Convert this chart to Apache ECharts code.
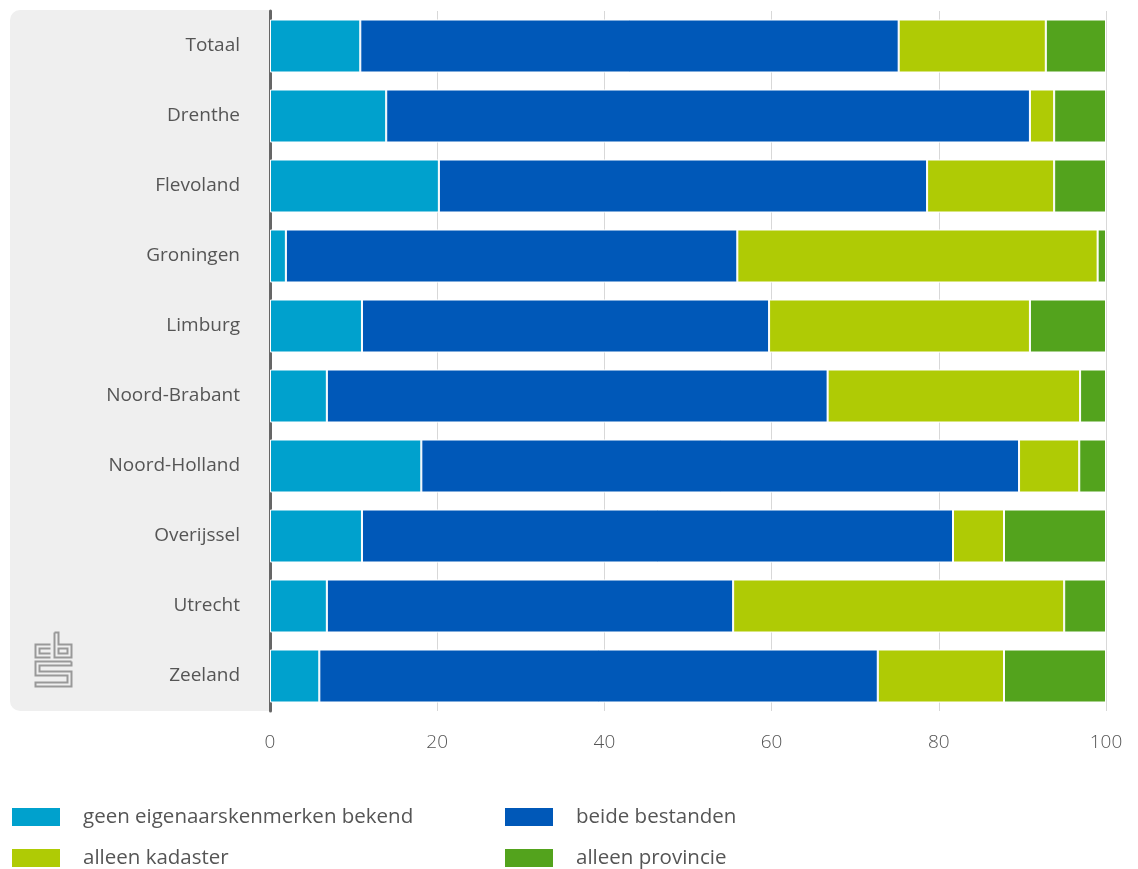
<!DOCTYPE html>
<html><head><meta charset="utf-8">
<script src="https://cdn.jsdelivr.net/npm/echarts@6/dist/echarts.min.js"></script>
<style>html,body{margin:0;padding:0;background:#fff}#c{width:1138px;height:869px}</style>
</head><body><div id="c"></div>
<script>
const categories = ['Totaal','Drenthe','Flevoland','Groningen','Limburg','Noord-Brabant','Noord-Holland','Overijssel','Utrecht','Zeeland'];
const geenKenmerken = [10.8, 13.9, 20.2, 1.9, 11.0, 6.8, 18.1, 11.0, 6.8, 5.9];
const beideBestanden = [64.4, 77.0, 58.4, 54.0, 48.7, 59.9, 71.5, 70.7, 48.6, 66.8];
const alleenKadaster = [17.6, 2.9, 15.2, 43.1, 31.2, 30.2, 7.2, 6.1, 39.6, 15.1];
const alleenProvincie = [7.2, 6.2, 6.2, 1.0, 9.1, 3.1, 3.2, 12.2, 5.0, 12.2];
const xTicks = [0, 20, 40, 60, 80, 100];

const font = "'Open Sans', 'Noto Sans', sans-serif";
const chart = echarts.init(document.getElementById('c'), null, {renderer:'canvas'});
const mk = (name, data, color) => ({
  name, type:'bar', stack:'t', data, barWidth: 53,
  itemStyle:{color, borderColor:'#fff', borderWidth:1},
  emphasis:{disabled:true}
});
const legendBase = {orient:'vertical', top:806, padding:0, height:70,
  itemWidth:50, itemHeight:20, itemGap:19, icon:'rect',
  textStyle:{color:'#555', fontSize:20.5, padding:[0,0,0,17], fontFamily:font}};
chart.setOption({
  animation:false,
  textStyle:{fontFamily:font},
  grid:{left:270, right:32, top:11, bottom:158, containLabel:false},
  xAxis:{type:'value', min:xTicks[0], max:xTicks[xTicks.length-1], interval:20,
    axisLine:{show:false}, axisTick:{show:false},
    splitLine:{show:true, lineStyle:{color:'#d8d8d8', width:1}},
    axisLabel:{color:'#555', fontSize:19, margin:22, fontFamily:font, fontWeight:300}},
  yAxis:{type:'category', data:categories, inverse:true,
    axisLine:{show:true, lineStyle:{color:'#666', width:3}},
    axisTick:{show:false},
    axisLabel:{color:'#555', fontSize:19, margin:30, fontFamily:font}},
  legend:[
    Object.assign({data:['geen eigenaarskenmerken bekend','alleen kadaster'], left:10}, legendBase),
    Object.assign({data:['beide bestanden','alleen provincie'], left:503}, legendBase)
  ],
  graphic:[
    {type:'rect', z:-10, left:10, top:10, shape:{width:262, height:701, r:[10,0,0,10]}, style:{fill:'#efefef'}},
    {type:'group', left:33, top:630, children:[
      {type:'polyline', shape:{points:[[16,12],[1,12],[1,25],[16,25]]}, style:{stroke:'#999', lineWidth:2, fill:null}},
      {type:'polyline', shape:{points:[[16,16],[5,16],[5,21],[16,21]]}, style:{stroke:'#999', lineWidth:2, fill:null}},
      {type:'polyline', shape:{points:[[20,0],[20,25],[37,25],[37,12],[24,12],[24,0],[20,0]]}, style:{stroke:'#999', lineWidth:2, fill:null}},
      {type:'rect', shape:{x:24, y:16, width:9, height:5}, style:{stroke:'#999', lineWidth:2, fill:null}},
      {type:'polyline', shape:{points:[[37,29],[1,29],[1,43],[33,43],[33,50],[1,50],[1,54],[37,54],[37,39],[5,39],[5,33],[37,33],[37,29]]}, style:{stroke:'#999', lineWidth:2, fill:null}}
    ]}
  ],
  series:[
    mk('geen eigenaarskenmerken bekend', geenKenmerken, '#00a1cd'),
    mk('beide bestanden', beideBestanden, '#0058b8'),
    mk('alleen kadaster', alleenKadaster, '#afcb05'),
    mk('alleen provincie', alleenProvincie, '#53a31d')
  ]
});
</script></body></html>
